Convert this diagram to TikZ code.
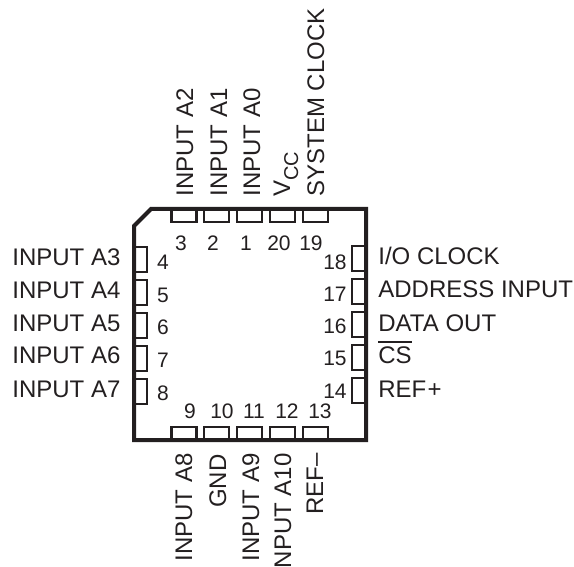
\documentclass[tikz,border=0pt]{standalone}
\usepackage{fontspec}
\setmainfont{Liberation Sans}
\usepackage{tikz}
\definecolor{inkblack}{HTML}{231F20}
\tikzset{
  bodyline/.style={draw=inkblack,line width=2pt,line join=miter},
  padline/.style={draw=inkblack,line width=1.2pt},
  pinlabel/.style={font=\fontsize{12}{14}\selectfont,text=inkblack,inner sep=0pt},
  pinnumber/.style={font=\fontsize{10.5}{12}\selectfont,text=inkblack,inner sep=0pt}
}
\newcommand{\drawtoppad}[1]{
  \draw[padline] (#1,209) -- (#1,222) -- (#1+25,222) -- (#1+25,209);
}
\newcommand{\drawbottompad}[1]{
  \draw[padline] (#1,440) -- (#1,427) -- (#1+25,427) -- (#1+25,440);
}
\newcommand{\drawleftpad}[1]{
  \draw[padline] (134,#1) -- (147,#1) -- (147,#1+25) -- (134,#1+25);
}
\newcommand{\drawrightpad}[1]{
  \draw[padline] (366,#1) -- (352,#1) -- (352,#1+25) -- (366,#1+25);
}
\begin{document}
\begin{tikzpicture}[x=0.5pt,y=-0.5pt]
  \useasboundingbox (0,0) rectangle (574,567);
  \draw[bodyline] (151,209) -- (366,209) -- (366,440) -- (134,440) -- (134,226) -- cycle;
  \foreach \i in {171.5,204,237,270,303}{
    \drawtoppad{\i}
    \drawbottompad{\i}
  }
  \foreach \i in {247,280,313,346,379}{
    \drawleftpad{\i}
  }
  \foreach \i in {246,279,312,345,378}{
    \drawrightpad{\i}
  }
  % pin numbers
  \foreach \n/\x in {3/181,2/213,1/246,20/279,19/311}{
    \node[pinnumber] (num\n) at (\x,243) {\n};
  }
  \foreach \n/\x in {9/190,10/222,11/254,12/287,13/320}{
    \node[pinnumber] (num\n) at (\x,411) {\n};
  }
  \foreach \n/\y in {4/262,5/295,6/327,7/360,8/393}{
    \node[pinnumber] (num\n) at (163,\y) {\n};
  }
  \foreach \n/\y in {18/262,17/294,16/326,15/358,14/391}{
    \node[pinnumber] (num\n) at (335,\y) {\n};
  }
  % left and right labels
  \foreach \n/\y in {3/266,4/299,5/332,6/364,7/397}{
    \node[pinlabel,anchor=base west] (inputa\n) at (12,\y) {INPUT A\n};
  }
  \node[pinlabel,anchor=base west] (ioclock) at (378,265) {I/O CLOCK};
  \node[pinlabel,anchor=base west] (address) at (378,298) {ADDRESS INPUT};
  \node[pinlabel,anchor=base west] (dataout) at (378,331) {DATA OUT};
  \node[pinlabel,anchor=base west] (cs) at (378,364) {CS};
  \node[pinlabel,anchor=base west] (refplus) at (378,397) {REF\kern0.6pt+};
  \draw[padline] ([yshift=2.5pt]cs.north west) -- ([yshift=2.5pt]cs.north east);
  % top labels
  \foreach \n/\x in {2/193,1/227,0/260}{
    \node[pinlabel,rotate=90,anchor=base west] (inputa\n) at (\x,197) {INPUT A\n};
  }
  \node[pinlabel,rotate=90,anchor=base west] (vcc) at (290,197) {V\raisebox{-4pt}{\fontsize{10}{12}\selectfont CC}};
  \node[pinlabel,rotate=90,anchor=base west] (sysclock) at (324,197) {SYSTEM CLOCK};
  % bottom labels
  \node[pinlabel,rotate=90,anchor=base east] (inputa8) at (192,453) {INPUT A8};
  \node[pinlabel,rotate=90,anchor=base east] (gnd) at (226,454) {GND};
  \node[pinlabel,rotate=90,anchor=base east] (inputa9) at (259,453) {INPUT A9};
  \node[pinlabel,rotate=90,anchor=base east] (inputa10) at (291,453) {NPUT A10};
  \node[pinlabel,rotate=90,anchor=base east] (refminus) at (323,453) {REF--};
\end{tikzpicture}
\end{document}
